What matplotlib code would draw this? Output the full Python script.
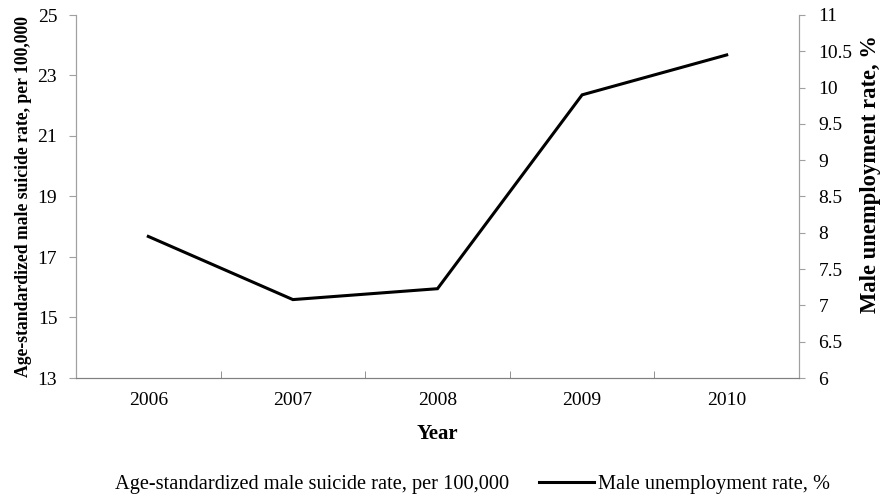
import matplotlib
matplotlib.use("Agg")
import matplotlib.pyplot as plt
from matplotlib.lines import Line2D

plt.rcParams['font.family'] = ['Liberation Serif', 'DejaVu Serif']

# data
years = ['2006', '2007', '2008', '2009', '2010']
unemployment = [7.95, 7.08, 7.23, 9.90, 10.45]
left_ticks = [13, 15, 17, 19, 21, 23, 25]
right_ticks = [6, 6.5, 7, 7.5, 8, 8.5, 9, 9.5, 10, 10.5, 11]

fig = plt.figure(figsize=(8.81, 4.98), dpi=100)
ax = fig.add_axes([76/881, 1 - 378/498, (799 - 76)/881, (378 - 15)/498])
ax2 = ax.twinx()

x = list(range(len(years)))
ax2.plot(x, unemployment, color='black', lw=2.2, solid_joinstyle='miter')

ax.set_xlim(-0.5, len(years) - 0.5)
ax.set_ylim(13, 25)
ax.set_yticks(left_ticks)
ax.set_yticklabels([str(t) for t in left_ticks])
ax2.set_ylim(6, 11)
ax2.set_yticks(right_ticks)
ax2.set_yticklabels(['%g' % t for t in right_ticks])

ax.set_xticks(x)
ax.set_xticklabels(years)
ax.set_xticks([i - 0.5 for i in range(len(years) + 1)], minor=True)
ax.tick_params(axis='x', which='major', length=0, pad=10, labelsize=14)
ax.tick_params(axis='x', which='minor', length=5, direction='in', color='#808080')
ax.tick_params(axis='y', length=5, color='#a0a0a0', labelsize=14, pad=8.5)
ax2.tick_params(axis='y', length=4, color='#a0a0a0', labelsize=14, pad=10)

for a in (ax, ax2):
    a.spines['top'].set_visible(False)
    a.spines['left'].set_color('#a0a0a0')
    a.spines['right'].set_color('#a0a0a0')
    a.spines['bottom'].set_color('#808080')

ax.set_xlabel('Year', fontweight='bold', fontsize=15, labelpad=11)
ax.set_ylabel('Age-standardized male suicide rate, per 100,000', fontweight='bold',
              fontsize=12.7)
ax.yaxis.set_label_coords(-0.061, 0.5)
ax2.set_ylabel('Male unemployment rate, %', fontweight='bold', fontsize=16.3)
ax2.yaxis.set_label_coords(1.084, 0.562)

handles = [Line2D([], [], color='none', lw=2.2),
           Line2D([], [], color='black', lw=2.2)]
labels = ['Age-standardized male suicide rate, per 100,000', 'Male unemployment rate, %']
fig.legend(handles, labels, loc='center', bbox_to_anchor=(0.503, 1 - 484/498), ncol=2,
           frameon=False, fontsize=14.7, handlelength=2.7, handletextpad=0.2,
           columnspacing=1.45)

fig.savefig('out.png', dpi=100)
